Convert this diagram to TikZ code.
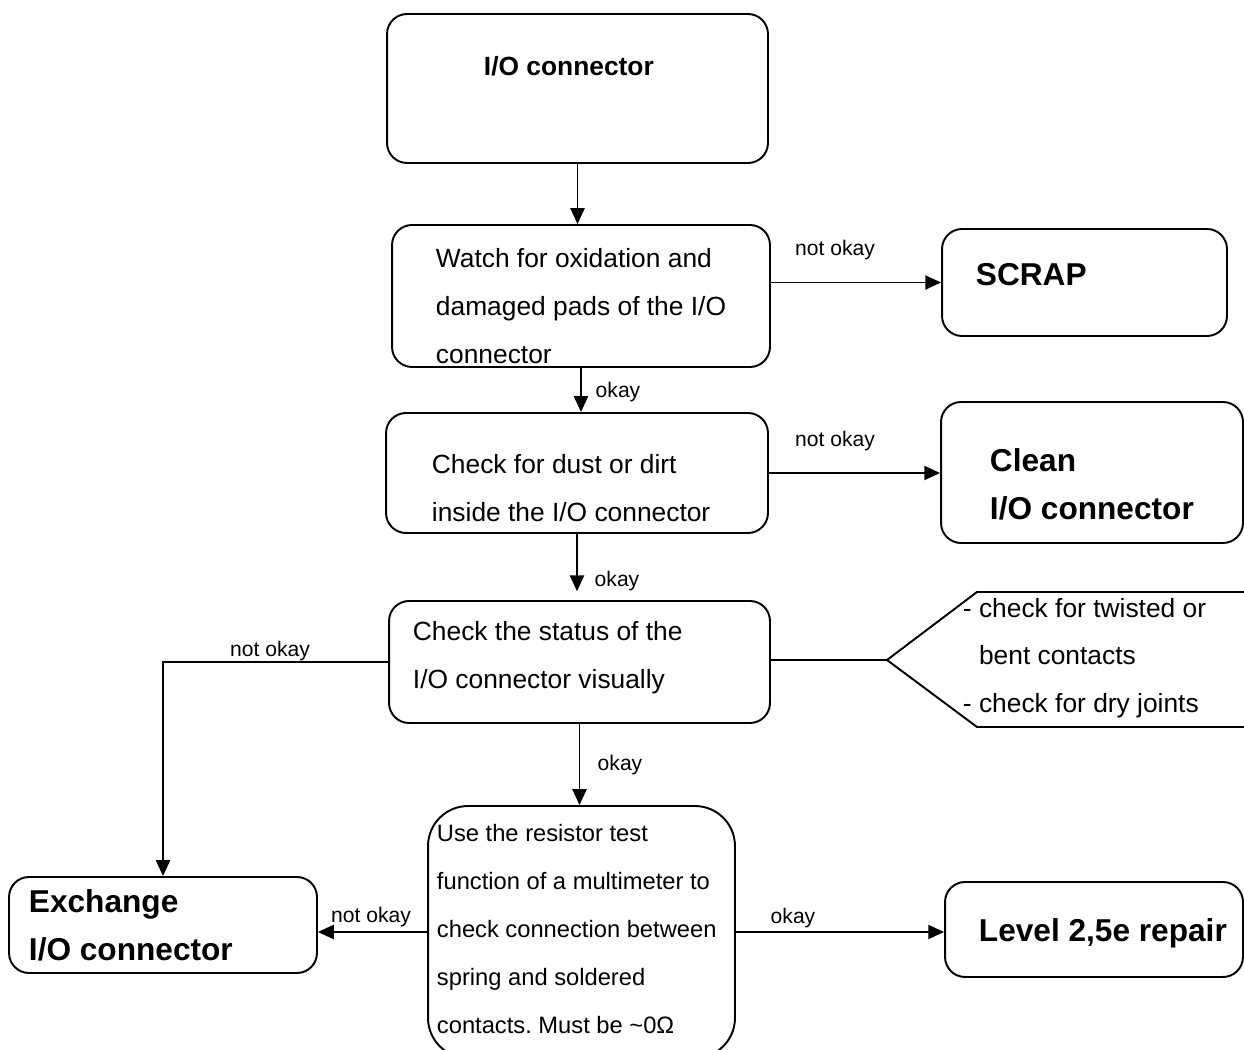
\documentclass[tikz,border=0pt]{standalone}
\usepackage{fontspec}
\setmainfont{Liberation Sans}
\frenchspacing
\usetikzlibrary{arrows.meta}
\begin{document}
\begin{tikzpicture}[x=0.02cm, y=-0.02cm, line width=1.1pt,
box/.style={draw, rounded corners=0.4cm, inner sep=0pt},
txt/.style={anchor=west, inner sep=0pt, align=left, font=\fontsize{15}{27.2}\selectfont},
big/.style={anchor=west, inner sep=0pt, align=left, font=\fontsize{18}{27.2}\selectfont\bfseries},
lbl/.style={inner sep=0pt, font=\fontsize{12}{14}\selectfont},
arr/.style={-{Triangle[length=9pt,width=8pt]}}]
\useasboundingbox (0,0) rectangle (1244,1050);
\node[box, minimum width=7.62cm, minimum height=2.98cm] (top) at (577.5,88.5){};
\node[txt, font=\fontsize{15}{27.2}\selectfont\bfseries] (toptxt) at (483,66){I/O connector};
\node[box, minimum width=7.56cm, minimum height=2.84cm] (watch) at (581,296){};
\node[txt] (watchtxt) at (435,306){Watch for oxidation and\\damaged pads of the I/O\\connector};
\node[box, minimum width=5.7cm, minimum height=2.14cm] (scrap) at (1084.5,282.5){};
\node[big] (scraptxt) at (975,275){SCRAP};
\node[box, minimum width=7.64cm, minimum height=2.4cm] (dust) at (577,473){};
\node[txt] (dusttxt) at (431,488){Check for dust or dirt\\inside the I/O connector};
\node[box, minimum width=6.04cm, minimum height=2.82cm] (clean) at (1092,472.5){};
\node[big] (cleantxt) at (989,484){Clean\\I/O connector};
\node[box, minimum width=7.62cm, minimum height=2.44cm] (status) at (579.5,662){};
\node[txt] (statustxt) at (412,658){Check the status of the\\I/O connector visually};
\coordinate (tip) at (887,660);
\draw[](1250,592) -- (977,592) -- (tip) -- (977,727) -- (1250,727);
\node[txt] (visual) at (962,658){- check for twisted or\\\hphantom{- }bent contacts\\- check for dry joints};
\node[box, rounded corners=0.8cm, minimum width=6.14cm, minimum height=5.04cm] (multi) at (581.5,932){};
\node[txt, font=\fontsize{13.5}{27.2}\selectfont] (multitxt) at (436,929){Use the resistor test\\function of a multimeter to\\check connection between\\spring and soldered\\contacts. Must be {\textasciitilde}0Ω};
\node[box, minimum width=6.16cm, minimum height=1.92cm] (exch) at (163,925){};
\node[big] (exchtxt) at (28,925){Exchange\\I/O connector};
\node[box, minimum width=5.96cm, minimum height=1.9cm] (level) at (1094,929.5){};
\node[big] (leveltxt) at (978,933){Level 2,5e repair};
\draw[arr](top.south) -- (top.south |- watch.north);
\draw[arr](watch.east |- scrap) -- (scrap.west);
\node[lbl] (l1) at (835,250){not okay};
\draw[arr](watch.south) -- (watch.south |- dust.north);
\node[lbl] (l2) at (618,392){okay};
\draw[arr](dust.east) -- (dust.east -| clean.west);
\node[lbl] (l3) at (835,441){not okay};
\draw[arr, shorten >=5pt](dust.south) -- (dust.south |- status.north);
\node[lbl] (l4) at (617,581){okay};
\draw[](status.east |- tip) -- (tip);
\draw[arr](status.west) -| (exch.north);
\node[lbl] (l5) at (270,651){not okay};
\draw[arr](status.south) -- (status.south |- multi.north);
\node[lbl] (l6) at (620,765){okay};
\draw[arr](multi.west) -- (multi.west -| exch.east);
\node[lbl] (l7) at (371,917){not okay};
\draw[arr](multi.east) -- (multi.east -| level.west);
\node[lbl] (l8) at (793,918){okay};
\end{tikzpicture}
\end{document}
